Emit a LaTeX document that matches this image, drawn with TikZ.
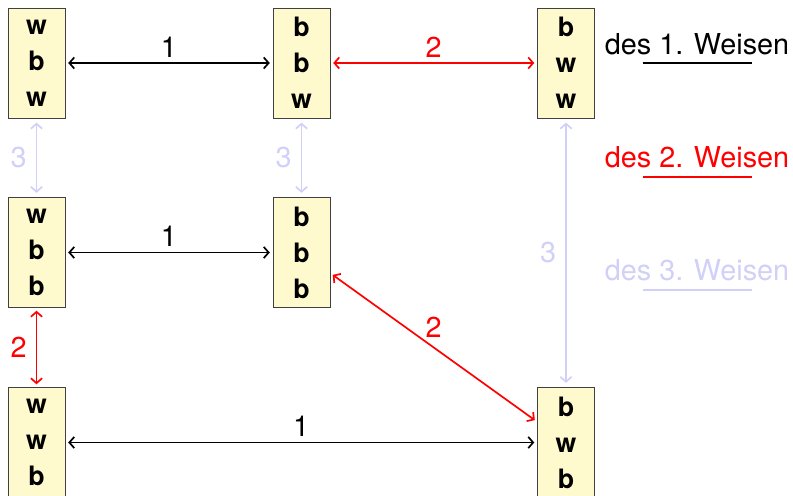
\documentclass[tikz,border=0pt]{standalone}
\usepackage{fontspec}
\setmainfont{TeX Gyre Heros}
\usetikzlibrary{arrows.meta,calc,positioning}
\definecolor{zustandgelb}{RGB}{255,250,205}
\definecolor{lavendel}{RGB}{208,208,248}

\begin{document}
\begin{tikzpicture}[
  > = {Straight Barb[length=3.5pt,width=8pt]},
  every node/.style = {font=\fontsize{20.5}{24}\selectfont},
  zustand/.style = {draw=black!75,fill=zustandgelb,line width=0.6pt,minimum width=1.425cm,minimum height=2.75cm,inner sep=0pt,align=center,font=\fontsize{19}{25.6}\selectfont\bfseries},
  weise1/.style = {<->,black,line width=1.2pt,shorten >=2pt,shorten <=2pt},
  weise2/.style = {<->,red,line width=1.2pt,shorten >=2pt,shorten <=2pt},
  weise3/.style = {<->,lavendel,line width=1.2pt,shorten >=3pt,shorten <=3pt}
  ]
	\useasboundingbox (0,0) rectangle (19.825,12.375);

	\coordinate (@1) at (0.9125,10.8);
	\coordinate (@2) at (7.5375,10.8);
	\coordinate (@3) at (14.15,10.8);
	\coordinate (@4) at (0.9125,6.0625);
	\coordinate (@5) at (7.5375,6.0625);
	\coordinate (@6) at (0.9125,1.3125);
	\coordinate (@7) at (14.15,1.3125);

	\node[zustand] (z1) at (@1) {w\\b\\w};
	\node[zustand] (z2) at (@2) {b\\b\\w};
	\node[zustand] (z3) at (@3) {b\\w\\w};
	\node[zustand] (z4) at (@4) {w\\b\\b};
	\node[zustand] (z5) at (@5) {b\\b\\b};
	\node[zustand] (z6) at (@6) {w\\w\\b};
	\node[zustand] (z7) at (@7) {b\\w\\b};

	% 1. Weise
	\draw[weise1] (z1) -- node[above] {1} (z2);
	\draw[weise1] (z4) -- node[above] {1} (z5);
	\draw[weise1] (z6) -- node[above] {1} (z7);

	% 2. Weise
	\draw[weise2] (z2) -- node[above,red] {2} (z3);
	\draw[weise2] (z4) -- node[left=3pt,red] {2} (z6);
	\draw[weise2] (z5) -- node[above=3pt,red] {2} (z7);

	% 3. Weise
	\draw[weise3] (z1) -- node[left=3pt,lavendel] {3} (z4);
	\draw[weise3] (z2) -- node[left=3pt,lavendel] {3} (z5);
	\draw[weise3] (z3) -- node[left=3pt,lavendel] {3} (z7);

	% Legende
	\node (l1) at (17.425,11.275) {des 1. Weisen};
	\node[red] (l2) at (17.425,8.45) {des 2. Weisen};
	\node[lavendel] (l3) at (17.425,5.625) {des 3. Weisen};
	\draw[black,line width=1.2pt] ([xshift=-1.3625cm]l1.south |- 0,10.8) -- ([xshift=1.3625cm]l1.south |- 0,10.8);
	\draw[red,line width=1.2pt] ([xshift=-1.3625cm]l2.south |- 0,7.95) -- ([xshift=1.3625cm]l2.south |- 0,7.95);
	\draw[lavendel,line width=1.2pt] ([xshift=-1.3625cm]l3.south |- 0,5.125) -- ([xshift=1.3625cm]l3.south |- 0,5.125);

\end{tikzpicture}
\end{document}
